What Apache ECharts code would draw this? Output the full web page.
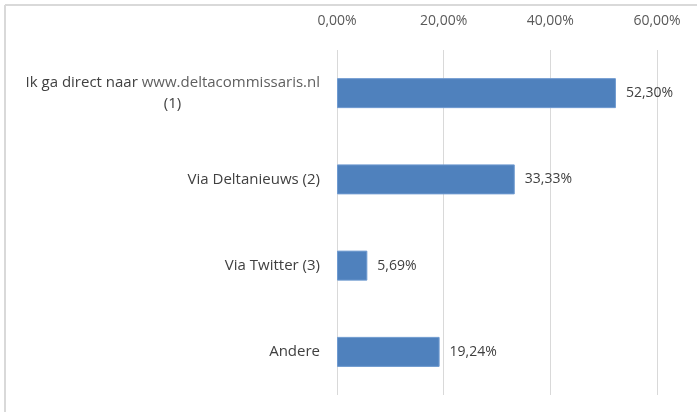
<!DOCTYPE html>
<html>
<head>
<meta charset="utf-8">
<script src="https://cdn.jsdelivr.net/npm/echarts@6/dist/echarts.min.js"></script>
<style>
  html, body { margin: 0; padding: 0; background: #fff; }
  #chart { width: 697px; height: 412px; }
</style>
</head>
<body>
<div id="chart"></div>
<script>
// categories top to bottom
const categories = ['Ik ga direct naar www.deltacommissaris.nl (1)', 'Via Deltanieuws (2)', 'Via Twitter (3)', 'Andere']
const values = [52.30, 33.33, 5.69, 19.24]
const ticks = [0, 20, 40, 60]

const FONT = 'Open Sans'
const SIZE = 14
const CAT_SIZE = 15

const pct = (v) => v.toFixed(2).replace('.', ',') + '%'

// measure first line so "(1)" can be centered under it, like Excel does
const ctx = document.createElement('canvas').getContext('2d')
ctx.font = CAT_SIZE + 'px "' + FONT + '"'
const linkPre = 'Ik ga direct naar '
const link = 'www.deltacommissaris.nl'
const firstW = Math.ceil(ctx.measureText(linkPre + link).width)

const chart = echarts.init(document.getElementById('chart'))

const txt = { fontFamily: FONT, fontSize: CAT_SIZE, color: '#404040', lineHeight: 21 }

const option = {
  animation: false,
  grid: { left: 337, right: 40, top: 50, bottom: 17 },
  graphic: [
    { type: 'line', shape: { x1: 5, y1: 5, x2: 697, y2: 5 }, style: { stroke: '#d9d9d9', lineWidth: 2 } },
    { type: 'line', shape: { x1: 5, y1: 5, x2: 5, y2: 412 }, style: { stroke: '#d9d9d9', lineWidth: 2 } }
  ],
  xAxis: {
    type: 'value',
    position: 'top',
    min: 0,
    max: 60,
    interval: 20,
    axisLine: { show: false },
    axisTick: { show: false },
    splitLine: { lineStyle: { color: '#d9d9d9', width: 1 } },
    axisLabel: {
      color: '#595959',
      fontFamily: FONT,
      fontSize: SIZE,
      margin: 22,
      formatter: (v) => ticks.includes(v) ? pct(v) : ''
    }
  },
  yAxis: {
    type: 'category',
    inverse: true,
    data: categories,
    axisLine: { show: false },
    axisTick: { show: false },
    axisLabel: {
      color: '#404040',
      fontFamily: FONT,
      fontSize: CAT_SIZE,
      margin: 17,
      lineHeight: 21,
      formatter: (name) => {
        if (!name.startsWith(linkPre)) return name
        const rest = name.slice((linkPre + link).length + 1)
        return '{a|' + linkPre + '}{l|' + link + '}\n{b|' + rest + '}'
      },
      rich: {
        a: txt,
        l: Object.assign({}, txt, { color: '#5f5f5f' }),
        b: Object.assign({}, txt, { align: 'center', width: firstW })
      }
    }
  },
  series: [{
    type: 'bar',
    data: values,
    barWidth: 30,
    itemStyle: { color: '#4f81bd', borderColor: '#6f9ad0', borderWidth: 1 },
    label: {
      show: true,
      position: 'right',
      distance: 10,
      color: '#404040',
      fontFamily: FONT,
      fontSize: SIZE,
      formatter: (p) => pct(p.value)
    }
  }]
}

chart.setOption(option)
</script>
</body>
</html>
